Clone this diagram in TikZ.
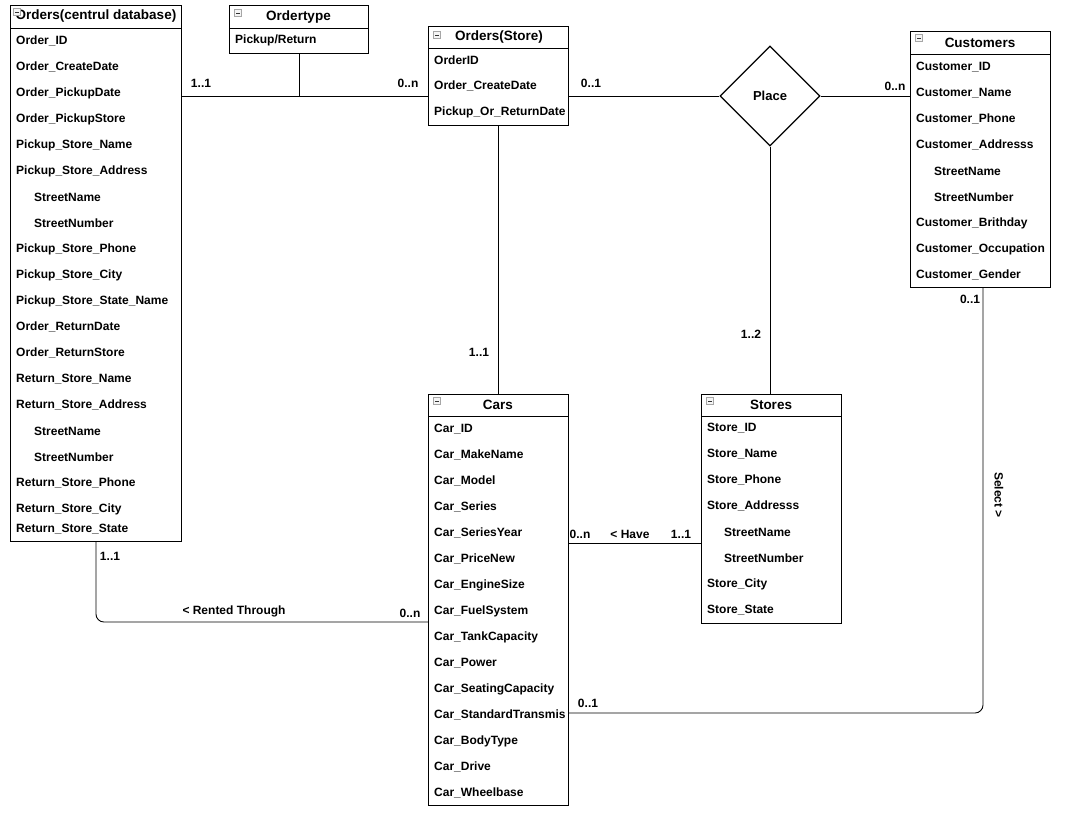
\documentclass[tikz,border=0pt]{standalone}
\usepackage{fontspec}
\setmainfont{Liberation Sans}
\usetikzlibrary{shapes.geometric}
\begin{document}
\begin{tikzpicture}[x=1pt,y=-1pt,
  tbl/.style={draw, line width=0.9pt, fill=white, anchor=north west, inner sep=0pt},
  fld/.style={anchor=west, inner sep=0pt, font=\bfseries\fontsize{12}{14}\selectfont},
  ttl/.style={inner sep=0pt, font=\bfseries\fontsize{13.5}{16}\selectfont},
  lbl/.style={inner sep=1pt, font=\bfseries\fontsize{12}{14}\selectfont},
  conn/.style={line width=0.9pt},
  pics/minbox/.style={code={
    \draw[gray!70, fill=gray!8, line width=0.6pt] (-3.5,-3.5) rectangle (3.5,3.5);
    \draw[black!80, line width=0.8pt] (-2,0) -- (2,0);}}
]
\useasboundingbox (0,0) rectangle (1066,812);
\fill[white] (0,0) rectangle (1066,812);

% ---------- Orders (central database) ----------
\node[tbl, minimum width=171, minimum height=536] (oc) at (10,5) {};
\draw[line width=0.9pt] (10,28) -- (181,28);
\node[ttl] (oc-t) at (96,16.5) {Orders(centrul database)};
\pic at (17,12) {minbox};
\foreach \t/\x/\y [count=\i] in {
  Order\_ID/16/41, Order\_CreateDate/16/67, Order\_PickupDate/16/93,
  Order\_PickupStore/16/119, Pickup\_Store\_Name/16/145,
  Pickup\_Store\_Address/16/171, StreetName/34/197, StreetNumber/34/223,
  Pickup\_Store\_Phone/16/249, Pickup\_Store\_City/16/275,
  Pickup\_Store\_State\_Name/16/301, Order\_ReturnDate/16/327,
  Order\_ReturnStore/16/353, Return\_Store\_Name/16/379,
  Return\_Store\_Address/16/405, StreetName/34/431, StreetNumber/34/457,
  Return\_Store\_Phone/16/483, Return\_Store\_City/16/509,
  Return\_Store\_State/16/529}
  \node[fld] (oc-\i) at (\x,\y) {\t};

% ---------- Ordertype ----------
\node[tbl, minimum width=139, minimum height=48] (ot) at (229,5) {};
\draw[line width=0.9pt] (229,28) -- (368,28);
\node[ttl] (ot-t) at (298.5,17) {Ordertype};
\pic at (238,13) {minbox};
\node[fld] (ot-1) at (235,40) {Pickup/Return};

% ---------- Orders (Store) ----------
\node[tbl, minimum width=140, minimum height=99] (os) at (428,26) {};
\draw[line width=0.9pt] (428,48) -- (568,48);
\node[ttl] (os-t) at (499,37) {Orders(Store)};
\pic at (437,35) {minbox};
\foreach \t/\y [count=\i] in {OrderID/60, Order\_CreateDate/86, Pickup\_Or\_ReturnDate/112}
  \node[fld] (os-\i) at (434,\y) {\t};

% ---------- Customers ----------
\node[tbl, minimum width=140, minimum height=256] (cu) at (910,31) {};
\draw[line width=0.9pt] (910,54) -- (1050,54);
\node[ttl] (cu-t) at (980,43) {Customers};
\pic at (919,38) {minbox};
\foreach \t/\x/\y [count=\i] in {
  Customer\_ID/916/67, Customer\_Name/916/93, Customer\_Phone/916/119,
  Customer\_Addresss/916/145, StreetName/934/171, StreetNumber/934/197,
  Customer\_Brithday/916/223, Customer\_Occupation/916/249,
  Customer\_Gender/916/275}
  \node[fld] (cu-\i) at (\x,\y) {\t};

% ---------- Place relationship ----------
\node[draw, line width=1.2pt, fill=white, shape=diamond, minimum width=100, minimum height=100, inner sep=0pt] (place) at (770,96) {};
\node[inner sep=0pt, font=\bfseries\fontsize{13}{15}\selectfont] (place-t) at (770,96) {Place};

% ---------- Cars ----------
\node[tbl, minimum width=140, minimum height=411] (cars) at (428,394) {};
\draw[line width=0.9pt] (428,416) -- (568,416);
\node[ttl] (cars-t) at (498,405) {Cars};
\pic at (437,401) {minbox};
\foreach \t/\y [count=\i] in {
  Car\_ID/429, Car\_MakeName/455, Car\_Model/481, Car\_Series/507,
  Car\_SeriesYear/533, Car\_PriceNew/559, Car\_EngineSize/585,
  Car\_FuelSystem/611, Car\_TankCapacity/637, Car\_Power/663,
  Car\_SeatingCapacity/689, Car\_StandardTransmis/715, Car\_BodyType/741,
  Car\_Drive/767, Car\_Wheelbase/793}
  \node[fld] (cars-\i) at (434,\y) {\t};

% ---------- Stores ----------
\node[tbl, minimum width=140, minimum height=229] (st) at (701,394) {};
\draw[line width=0.9pt] (701,416) -- (841,416);
\node[ttl] (st-t) at (771,405) {Stores};
\pic at (710,401) {minbox};
\foreach \t/\x/\y [count=\i] in {
  Store\_ID/707/428, Store\_Name/707/454, Store\_Phone/707/480,
  Store\_Addresss/707/506, StreetName/724/532, StreetNumber/724/558,
  Store\_City/707/584, Store\_State/707/610}
  \node[fld] (st-\i) at (\x,\y) {\t};

% ---------- connectors ----------
\coordinate (haveY) at (0,543);
\coordinate (rentY) at (0,622);
\coordinate (selY) at (0,713);
\coordinate (custX) at (983,0);

\draw[conn] (oc.east |- place) -- (os.west |- place);
\draw[conn] (ot.south) -- (ot.south |- place);
\draw[conn] (os.east |- place) -- (place.west);
\draw[conn] (place.east) -- (cu.west |- place);
\draw[conn] (os.south) -- (cars.north);
\draw[conn] (place.south) -- (place.south |- st.north);
\draw[conn] (cars.east |- haveY) -- (st.west |- haveY);
\draw[conn, rounded corners=8pt] (oc.south) -- (oc.south |- rentY) -- (cars.west |- rentY);
\draw[conn, rounded corners=8pt] (custX |- cu.south) -- (custX |- selY) -- (cars.east |- selY);

% ---------- multiplicities and roles ----------
\node[lbl] (m1) at (201,83) {1..1};
\node[lbl] (m2) at (408,83) {0..n};
\node[lbl] (m3) at (591,83) {0..1};
\node[lbl] (m4) at (895,86) {0..n};
\node[lbl] (m5) at (479,352) {1..1};
\node[lbl] (m6) at (751,334) {1..2};
\node[lbl] (m7) at (580,534) {0..n};
\node[lbl] (r1) at (630,534) {< Have};
\node[lbl] (m8) at (681,534) {1..1};
\node[lbl] (m9) at (110,556) {1..1};
\node[lbl] (r2) at (234,611) {< Rented Through};
\node[lbl] (m10) at (410,613) {0..n};
\node[lbl] (m11) at (970,299) {0..1};
\node[lbl] (m12) at (588,703) {0..1};
\node[lbl, rotate=-90] (r3) at (999,495) {Select >};
\end{tikzpicture}
\end{document}
